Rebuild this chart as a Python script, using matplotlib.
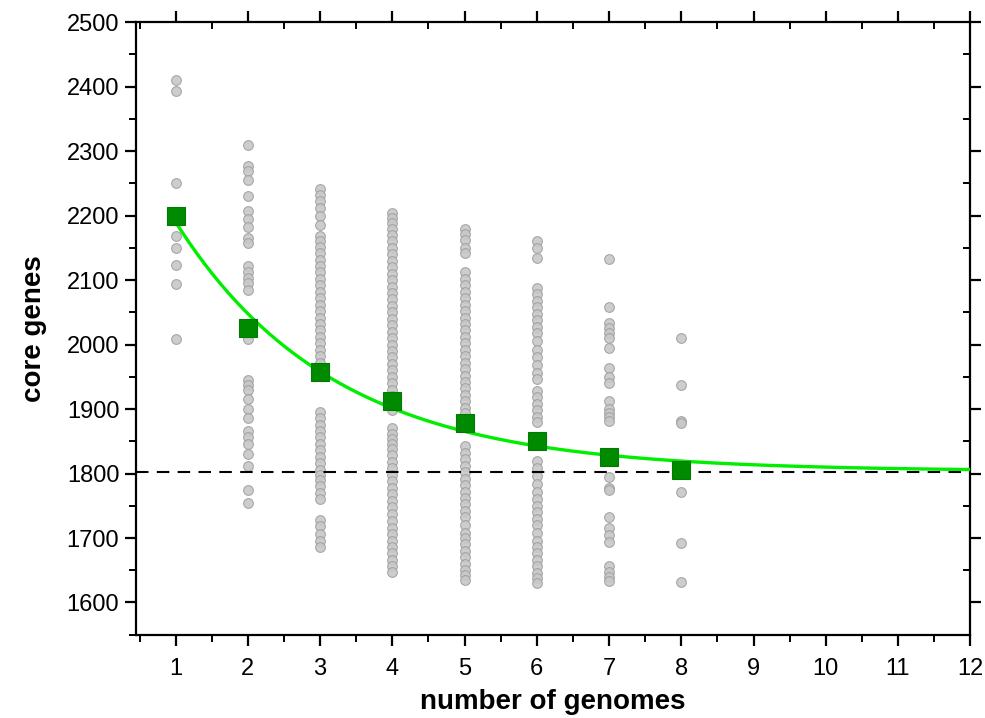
import numpy as np
import matplotlib
matplotlib.use("Agg")
import matplotlib.pyplot as plt
from matplotlib.ticker import MultipleLocator

plt.rcParams['font.family'] = ['Liberation Sans', 'DejaVu Sans']

# ---- data ----
genomes = [1, 2, 3, 4, 5, 6, 7, 8]

core_1 = [2410, 2393, 2250, 2168, 2150, 2124, 2094, 2008]
core_2 = [2310, 2277, 2269, 2255, 2230, 2207, 2195, 2182, 2166, 2158, 2122, 2112,
          2104, 2096, 2084, 2030, 2020, 2008, 1945, 1938, 1930, 1915, 1900, 1886,
          1866, 1856, 1846, 1830, 1812, 1775, 1755]
core_3 = [2242, 2232, 2222, 2212, 2200, 2186,
          2168, 2160, 2152, 2142, 2132, 2122, 2112, 2102, 2092, 2082, 2072, 2062,
          2052, 2042, 2032, 2022, 2012, 2002, 1992, 1982, 1972, 1962,
          1896, 1886, 1876, 1866, 1856, 1846, 1836, 1826, 1816, 1806, 1798, 1790,
          1780, 1770, 1760,
          1728, 1718, 1706, 1696, 1686]
core_4 = [2204, 2196, 2188, 2180, 2170, 2160, 2150, 2140, 2130, 2120, 2110, 2100,
          2090, 2080, 2070, 2060, 2050, 2040, 2030, 2020, 2010, 2000, 1990, 1980,
          1970, 1960, 1950, 1940, 1930, 1920, 1910, 1898,
          1870, 1862, 1854, 1846, 1838, 1828, 1818, 1808, 1798, 1788, 1778, 1768,
          1758, 1748, 1738,
          1726, 1716, 1706, 1696, 1686, 1676, 1666, 1656, 1648]
core_5 = [2180, 2172, 2162, 2150, 2142,
          2112, 2102, 2092, 2082, 2072, 2062, 2052, 2042, 2032, 2022, 2012, 2002,
          1992, 1982, 1972, 1962, 1952, 1942, 1932, 1922, 1912, 1902, 1894,
          1842, 1832, 1822, 1812, 1802, 1792, 1782, 1772, 1762, 1752, 1742, 1732,
          1720, 1708,
          1700, 1690, 1680, 1670, 1660, 1650, 1642, 1635]
core_6 = [2160, 2150, 2135,
          2088, 2078, 2068, 2058, 2048, 2038, 2028, 2018, 2005, 1992, 1980, 1968,
          1956, 1946,
          1928, 1918, 1908, 1898, 1888, 1880,
          1820, 1808, 1796, 1784, 1772,
          1760, 1750, 1740, 1730, 1720, 1708, 1696,
          1686, 1676, 1666, 1656, 1646, 1638, 1630]
core_7 = [2133, 2059, 2033, 2026, 2018, 2011, 1994, 1963, 1949, 1941, 1913, 1900,
          1894, 1888, 1882, 1794, 1778, 1774, 1732, 1715, 1704, 1694, 1657, 1648,
          1640, 1634]
core_8 = [2010, 1937, 1882, 1878, 1772, 1693, 1632]

core_samples = [core_1, core_2, core_3, core_4, core_5, core_6, core_7, core_8]

core_means = [2200, 2025, 1957, 1913, 1878, 1850, 1825, 1805]

x_ticks = list(range(1, 13))
y_ticks = list(range(1600, 2501, 100))

# ---- fit y = C + A*exp(-B*x) to the means ----
gx = np.array(genomes, dtype=float)
gy = np.array(core_means, dtype=float)
best = None
for B in np.linspace(0.05, 2.0, 2000):
    M = np.column_stack([np.exp(-B * gx), np.ones_like(gx)])
    coef, *_ = np.linalg.lstsq(M, gy, rcond=None)
    err = np.sum((M @ coef - gy) ** 2)
    if best is None or err < best[0]:
        best = (err, B, coef[0], coef[1])
_, B_fit, A_fit, C_fit = best

# ---- figure ----
fig = plt.figure(figsize=(9.85, 7.18), dpi=100)
ax = fig.add_axes([0.138, 0.116, 0.847, 0.853])

for g, vals in zip(genomes, core_samples):
    ax.plot([g] * len(vals), vals, linestyle='none', marker='o', markersize=7,
            markerfacecolor='#c8c8c8', markeredgecolor='#a0a0a0',
            markeredgewidth=0.8, alpha=0.9, zorder=2)

ax.axhline(C_fit - 2, color='black', linestyle=(0, (6, 4)), linewidth=1.5, zorder=3)

xs = np.linspace(1, 12, 300)
ax.plot(xs, C_fit + A_fit * np.exp(-B_fit * xs), color='#00ee00', linewidth=2.4,
        zorder=4)

ax.plot(genomes, core_means, linestyle='none', marker='s', markersize=12.5,
        markerfacecolor='#008a00', markeredgecolor='#007a00', markeredgewidth=0.8,
        zorder=5)

ax.set_xlim(0.45, 12)
ax.set_ylim(1550, 2500)
ax.set_xticks(x_ticks)
ax.set_yticks(y_ticks)
ax.xaxis.set_minor_locator(MultipleLocator(0.5))
ax.yaxis.set_minor_locator(MultipleLocator(50))

ax.tick_params(axis='both', which='major', direction='out', length=8, width=1.6,
               labelsize=17, colors='black')
ax.tick_params(axis='both', which='minor', direction='out', length=5, width=1.4)
ax.tick_params(axis='x', which='both', top=True, labeltop=False)
ax.tick_params(axis='y', which='both', right=True, labelright=False)
for sp in ax.spines.values():
    sp.set_linewidth(1.6)

# top/right ticks point inward
for t in ax.xaxis.get_major_ticks() + ax.xaxis.get_minor_ticks():
    t.tick2line.set_marker(matplotlib.lines.TICKDOWN)
for t in ax.yaxis.get_major_ticks() + ax.yaxis.get_minor_ticks():
    t.tick2line.set_marker(matplotlib.lines.TICKLEFT)

ax.tick_params(axis='x', which='major', pad=9)
ax.tick_params(axis='y', which='major', pad=4)

ax.set_xlabel('number of genomes', fontsize=20, fontweight='bold', labelpad=6)
ax.set_ylabel('core genes', fontsize=20, fontweight='bold', labelpad=14)

fig.savefig('out.png', dpi=100, facecolor='white')
